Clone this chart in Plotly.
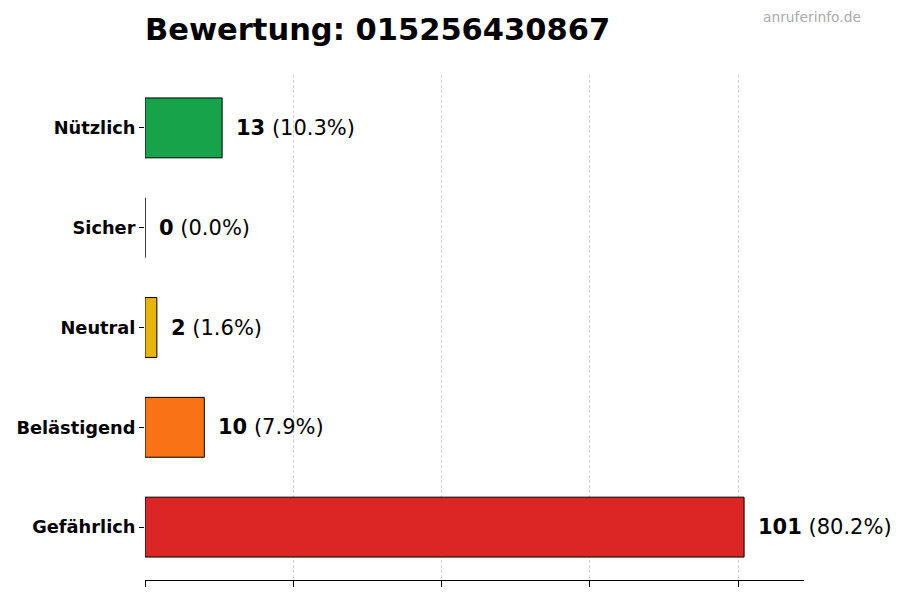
import plotly.graph_objects as go

categories = ["Gefährlich", "Belästigend", "Neutral", "Sicher", "Nützlich"]
counts = [101, 10, 2, 0, 13]
percents = [80.2, 7.9, 1.6, 0.0, 10.3]
colors = ["#dc2626", "#f97316", "#eab308", "#9ca3af", "#16a34a"]
title_text = "Bewertung: 015256430867"
watermark = "anruferinfo.de"
x_ticks = [0, 25, 50, 75, 100]

FONT = "DejaVu Sans"
xmax = max(counts) * 1.1
offset = max(counts) * 0.02

L, R, T, B = 137, 104, 67, 28
W, H = 900, 600
pw = W - L - R
ph = H - T - B

fig = go.Figure()
fig.add_trace(go.Bar(
    y=list(range(len(categories))),
    x=counts,
    orientation="h",
    width=0.6,
    marker=dict(color=colors, line=dict(color="black", width=1)),
    hoverinfo="skip",
))

annotations = []
for i, (c, p) in enumerate(zip(counts, percents)):
    annotations.append(dict(
        x=c + offset, y=i, xref="x", yref="y",
        text=f"<b>{c}</b> ({p:.1f}%)",
        showarrow=False, xanchor="left", yanchor="middle",
        font=dict(family=FONT, size=21, color="black"),
    ))
annotations.append(dict(
    x=(855 - L) / pw, y=(H - B - 9) / ph, xref="paper", yref="paper",
    text=watermark, showarrow=False, xanchor="right", yanchor="middle",
    font=dict(family=FONT, size=13.8, color="#aaaaaa"),
))

fig.update_layout(
    width=W, height=H,
    margin=dict(l=L, r=R, t=T, b=B, autoexpand=False),
    plot_bgcolor="white", paper_bgcolor="white",
    showlegend=False,
    title=dict(text=f"<b>{title_text}</b>", x=0, xref="paper", xanchor="left",
               y=1 - 21 / 600, yref="container", yanchor="middle",
               font=dict(family=FONT, size=30.5, color="black")),
    annotations=annotations,
    font=dict(family=FONT),
)
fig.update_xaxes(
    range=[0, xmax], tickvals=x_ticks, showticklabels=False,
    ticks="outside", ticklen=6, tickcolor="black",
    showline=True, linecolor="black", linewidth=1,
    showgrid=True, gridcolor="#d4d4d4", griddash="3px,2px", gridwidth=1,
    zeroline=False, layer="above traces", fixedrange=True, automargin=False,
)
fig.update_yaxes(
    range=[-0.53, len(categories) - 1 + 0.53],
    tickvals=list(range(len(categories))), ticktext=[f"<b>{c}</b>" for c in categories],
    tickfont=dict(family=FONT, size=17.8, color="black"),
    ticks="outside", ticklen=5, tickcolor="black",
    showline=False, showgrid=False, zeroline=False, fixedrange=True, automargin=False,
)

fig.write_html("out.html")
